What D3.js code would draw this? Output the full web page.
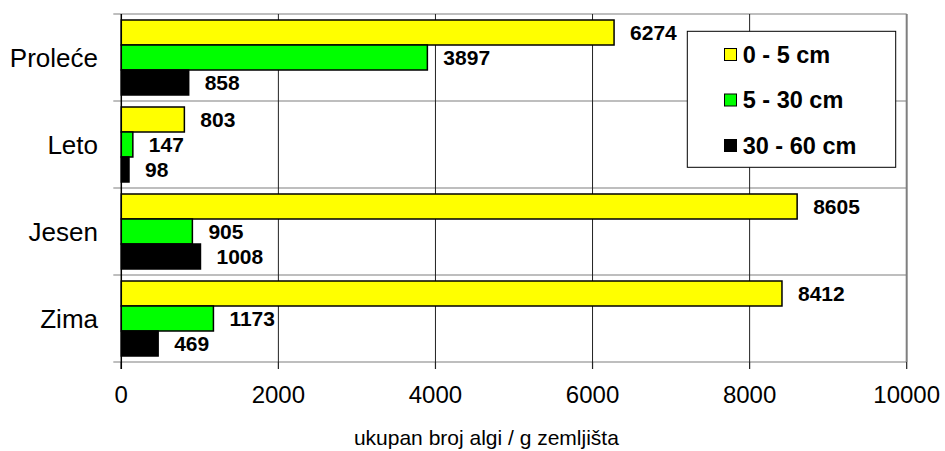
<!DOCTYPE html>
<html>
<head>
<meta charset="utf-8">
<script src="https://cdn.jsdelivr.net/npm/d3@7"></script>
<style>
  html, body { margin: 0; padding: 0; background: #fff; }
  svg { display: block; }
  text { font-family: "Liberation Sans", Arial, sans-serif; }
</style>
</head>
<body>
<svg id="chart" width="945" height="451"></svg>
<script>
const categories = ["Proleće", "Leto", "Jesen", "Zima"];
const seriesNames = ["0 - 5 cm", "5 - 30 cm", "30 - 60 cm"];
const seriesColors = ["#FFFF00", "#00FF00", "#000000"];
const values0to5 = [6274, 803, 8605, 8412];
const values5to30 = [3897, 147, 905, 1173];
const values30to60 = [858, 98, 1008, 469];
const xTicks = [0, 2000, 4000, 6000, 8000, 10000];
const xTitle = "ukupan broj algi / g zemljišta";

const series = [values0to5, values5to30, values30to60];

const svg = d3.select("#chart");
const pLeft = 121.3, pRight = 906.7, pTop = 14, pBottom = 362;

const x = d3.scaleLinear().domain([0, 10000]).range([pLeft, pRight]);
const y = d3.scaleBand().domain(categories).range([pTop, pBottom]).padding(0);
const yInner = d3.scaleBand().domain(d3.range(series.length))
  .range([0, y.bandwidth()]).paddingInner(0).paddingOuter(0.24);

// horizontal grid lines at category boundaries (with outward tick)
const bounds = categories.map(c => y(c)).concat([pBottom]);
svg.append("g").selectAll("line").data(bounds).join("line")
  .attr("x1", pLeft - 8).attr("x2", pRight)
  .attr("y1", d => d).attr("y2", d => d)
  .attr("stroke", "#7f7f7f").attr("stroke-width", 1.2);

// vertical grid lines
svg.append("g").selectAll("line").data(xTicks.slice(1, -1)).join("line")
  .attr("x1", d => x(d)).attr("x2", d => x(d))
  .attr("y1", pTop).attr("y2", pBottom)
  .attr("stroke", "#222").attr("stroke-width", 1);

// right border
svg.append("line").attr("x1", x(10000)).attr("x2", x(10000))
  .attr("y1", pTop).attr("y2", pBottom)
  .attr("stroke", "#7f7f7f").attr("stroke-width", 2);

// bottom tick marks
svg.append("g").selectAll("line").data(xTicks).join("line")
  .attr("x1", d => x(d)).attr("x2", d => x(d))
  .attr("y1", pBottom).attr("y2", pBottom + 7)
  .attr("stroke", "#222").attr("stroke-width", 1.2);

// left axis line
svg.append("line").attr("x1", pLeft).attr("x2", pLeft)
  .attr("y1", pTop).attr("y2", pBottom + 7)
  .attr("stroke", "#000").attr("stroke-width", 1.5);

// bars
series.forEach((vals, si) => {
  const g = svg.append("g");
  g.selectAll("rect").data(vals).join("rect")
    .attr("x", x(0))
    .attr("y", (d, i) => y(categories[i]) + yInner(si))
    .attr("width", d => x(d) - x(0))
    .attr("height", yInner.bandwidth())
    .attr("fill", seriesColors[si])
    .attr("stroke", "#000").attr("stroke-width", 1.5);
  g.selectAll("text").data(vals).join("text")
    .attr("x", d => x(d) + 16)
    .attr("y", (d, i) => y(categories[i]) + yInner(si) + yInner.bandwidth() / 2)
    .attr("dy", "0.36em")
    .attr("font-size", 21).attr("font-weight", "bold").attr("fill", "#000")
    .text(d => d);
});

// category labels
svg.append("g").selectAll("text").data(categories).join("text")
  .attr("x", 98).attr("y", d => y(d) + y.bandwidth() / 2)
  .attr("dy", "0.36em").attr("text-anchor", "end")
  .attr("font-size", 26).attr("fill", "#000")
  .text(d => d);

// x tick labels
svg.append("g").selectAll("text").data(xTicks).join("text")
  .attr("x", d => x(d)).attr("y", 403.3)
  .attr("text-anchor", "middle")
  .attr("font-size", 24).attr("fill", "#000")
  .text(d => d);

// x title
svg.append("text").attr("x", 486.4).attr("y", 445)
  .attr("text-anchor", "middle").attr("font-size", 21).attr("fill", "#000")
  .text(xTitle);

// legend
const lg = svg.append("g");
lg.append("rect").attr("x", 687.3).attr("y", 31.3).attr("width", 208.4).attr("height", 136)
  .attr("fill", "#fff").attr("stroke", "#000").attr("stroke-width", 1);
const rowY = [54.5, 100, 145.5];
seriesNames.forEach((name, i) => {
  lg.append("rect").attr("x", 724.5).attr("y", rowY[i] - 6).attr("width", 12).attr("height", 12)
    .attr("fill", seriesColors[i]).attr("stroke", "#000").attr("stroke-width", 1);
  lg.append("text").attr("x", 742.7).attr("y", rowY[i]).attr("dy", "0.36em")
    .attr("font-size", 23.5).attr("font-weight", "bold")
    .attr("fill", "#000").text(name);
});
</script>
</body>
</html>
